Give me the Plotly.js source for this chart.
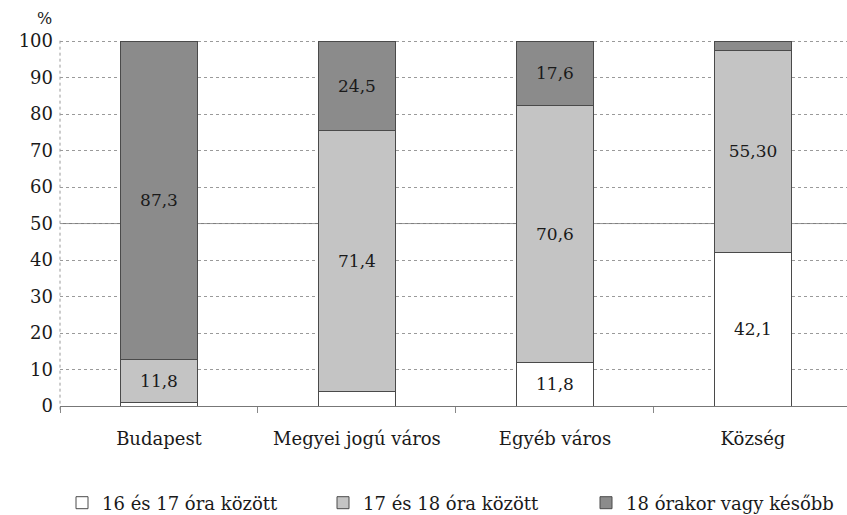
<!DOCTYPE html>
<html>
<head>
<meta charset="utf-8">
<script src="https://cdn.plot.ly/plotly-3.0.1.min.js"></script>
<style>html,body{margin:0;padding:0;background:#fff;}#chart{width:847px;height:515px;}</style>
</head>
<body>
<div id="chart"></div>
<script>
const categories = ['Budapest', 'Megyei jogú város', 'Egyéb város', 'Község'];
const seriesNames = ['16 és 17 óra között', '17 és 18 óra között', '18 órakor vagy később'];
const v1617 = [0.9, 4.1, 11.8, 42.1];
const v1718 = [11.8, 71.4, 70.6, 55.3];
const v18 = [87.3, 24.5, 17.6, 2.6];
const lbl1617 = ['', '', '11,8', '42,1'];
const lbl1718 = ['11,8', '71,4', '70,6', '55,30'];
const lbl18 = ['87,3', '24,5', '17,6', ''];
const yTicks = [0, 10, 20, 30, 40, 50, 60, 70, 80, 90, 100];

const serif = 'DejaVu Serif';
const colors = ['#ffffff', '#c4c4c4', '#8b8b8b'];
const values = [v1617, v1718, v18];
const labels = [lbl1617, lbl1718, lbl18];
const legendIds = ['legend', 'legend2', 'legend3'];

const traces = values.map((v, i) => ({
  type: 'bar',
  name: seriesNames[i],
  legend: legendIds[i],
  x: categories,
  y: v,
  text: labels[i],
  texttemplate: '%{text}',
  textposition: 'inside',
  insidetextanchor: 'middle',
  constraintext: 'none',
  textangle: 0,
  textfont: {family: serif, size: 17, color: '#1a1a1a'},
  marker: {color: colors[i], line: {color: '#4a4a4a', width: 1}},
  width: 0.39,
  hoverinfo: 'skip'
}));

function legendAt(xpx) {
  return {
    orientation: 'h', x: (xpx - 60) / 787, xanchor: 'left', y: -0.265, yanchor: 'middle',
    font: {family: serif, size: 18, color: '#1a1a1a'},
    bgcolor: 'rgba(0,0,0,0)', borderwidth: 0
  };
}

const layout = {
  width: 847, height: 515,
  margin: {l: 60, r: 0, t: 40, b: 109, autoexpand: false},
  paper_bgcolor: '#fff', plot_bgcolor: '#fff',
  barmode: 'stack',
  showlegend: true,
  font: {family: serif, size: 18, color: '#1a1a1a'},
  xaxis: {
    range: [-0.5, 3.475],
    showgrid: false,
    showline: true, linecolor: '#777', linewidth: 1,
    ticks: 'outside', tickson: 'boundaries', ticklen: 6, tickcolor: '#888',
    ticklabelstandoff: 16,
    tickfont: {family: serif, size: 18, color: '#1a1a1a'},
    automargin: false,
    fixedrange: true
  },
  yaxis: {
    range: [0, 100.3],
    tickvals: yTicks,
    ticktext: yTicks.map(String),
    showgrid: true, gridcolor: '#9a9a9a', griddash: 'dot', gridwidth: 1,
    zeroline: false,
    ticks: '', ticklabelstandoff: 6,
    tickfont: {family: serif, size: 18, color: '#1a1a1a'},
    automargin: false,
    fixedrange: true
  },
  shapes: [
    {type: 'line', xref: 'paper', yref: 'y', x0: 0, x1: 1, y0: 50, y1: 50,
     line: {color: '#7a7a7a', width: 1}, layer: 'below'},
    {type: 'line', xref: 'paper', yref: 'paper', x0: 0, x1: 0, y0: -0.01, y1: 1,
     line: {color: '#9a9a9a', width: 1, dash: 'dot'}, layer: 'below'}
  ],
  annotations: [
    {text: '%', xref: 'paper', yref: 'paper', x: -0.02, y: 1.06, xanchor: 'center', yanchor: 'middle',
     showarrow: false, font: {family: serif, size: 16, color: '#1a1a1a'}}
  ],
  legend: legendAt(62),
  legend2: legendAt(323),
  legend3: legendAt(586)
};

Plotly.newPlot('chart', traces, layout, {displayModeBar: false, staticPlot: true});
</script>
</body>
</html>
